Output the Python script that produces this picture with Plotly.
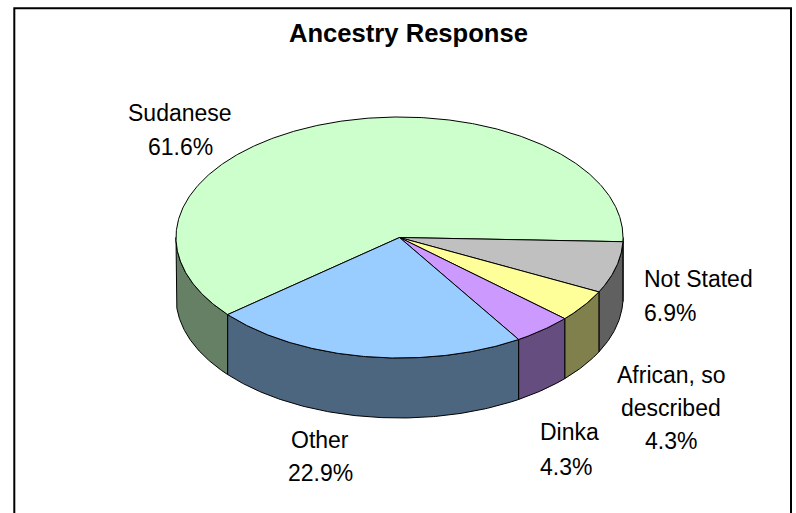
import numpy as np
import plotly.graph_objects as go

categories = ["Sudanese", "Not Stated", "African, so described", "Dinka", "Other"]
shares = [61.6, 6.9, 4.3, 4.3, 22.9]
top_colors = ["#CCFFCC", "#C0C0C0", "#FFFF99", "#CC99FF", "#99CCFF"]
side_colors = ["#668066", "#606060", "#80804D", "#664D80", "#4D6680"]
title_text = "Ancestry Response"

# Chart geometry, in page pixels
CX, CY, RX, RY, DEPTH = 399.5, 237.5, 223.5, 120.5, 60
START_DEG = 2 - 360 * shares[0] / 100

# Label line placement: (x, y, anchor, text)
label_lines = [
    (180, 113, "center", categories[0]),
    (180, 147, "center", f"{shares[0]}%"),
    (642, 279, "left", categories[1]),
    (642, 313, "left", f"{shares[1]}%"),
    (671, 375, "center", "African, so"),
    (671, 408, "center", "described"),
    (671, 441, "center", f"{shares[2]}%"),
    (538, 432, "left", categories[3]),
    (538, 467, "left", f"{shares[3]}%"),
    (320, 440, "center", categories[4]),
    (320, 473, "center", f"{shares[4]}%"),
]


def rim(a, b, dy=0.0):
    n = max(2, int(abs(b - a) * 2) + 2)
    t = np.radians(np.linspace(a, b, n))
    return CX + RX * np.cos(t), CY + RY * np.sin(t) + dy


def add_poly(fig, x, y, color):
    fig.add_trace(go.Scatter(
        x=list(x), y=list(y), mode="lines", fill="toself", fillcolor=color,
        line=dict(color="#000000", width=1), hoverinfo="skip", showlegend=False,
    ))


fig = go.Figure()

edges = START_DEG + np.concatenate([[0], np.cumsum(shares)]) * 3.6
spans = [(edges[i], edges[i + 1]) for i in range(len(shares))]

# Visible walls: the part of each slice whose rim lies on the front half
wall_parts = []
for i, (a, b) in enumerate(spans):
    for shift in (-360, 0, 360):
        lo, hi = max(a + shift, 0), min(b + shift, 180)
        if hi > lo:
            wall_parts.append((lo, hi, side_colors[i]))
for lo, hi, color in sorted(wall_parts, key=lambda p: abs(90 - (p[0] + p[1]) / 2), reverse=True):
    x1, y1 = rim(lo, hi)
    x2, y2 = rim(hi, lo, DEPTH)
    add_poly(fig, np.r_[x1, x2, x1[0]], np.r_[y1, y2, y1[0]], color)

# Top faces
for i, (a, b) in enumerate(spans):
    x, y = rim(a, b)
    add_poly(fig, np.r_[CX, x, CX], np.r_[CY, y, CY], top_colors[i])

annotations = [
    dict(x=408.5, y=33, xref="x", yref="y", text=f"<b>{title_text}</b>", showarrow=False,
         xanchor="center", yanchor="middle",
         font=dict(family="Liberation Sans, Arial, sans-serif", size=25.6, color="#000000"))
]
for x, y, anchor, text in label_lines:
    annotations.append(dict(
        x=x, y=y, xref="x", yref="y", text=text, showarrow=False,
        xanchor=anchor, yanchor="middle", xshift=0,
        font=dict(family="Liberation Sans, Arial, sans-serif", size=23, color="#000000"),
    ))

fig.update_layout(
    width=796, height=513, margin=dict(l=0, r=0, t=0, b=0),
    paper_bgcolor="#FFFFFF", plot_bgcolor="#FFFFFF", showlegend=False,
    xaxis=dict(range=[0, 796], visible=False, fixedrange=True),
    yaxis=dict(range=[513, 0], visible=False, fixedrange=True),
    annotations=annotations,
    shapes=[dict(type="rect", xref="x", yref="y", x0=14.3, x1=791, y0=8.2, y1=540,
                 line=dict(color="#000000", width=2), layer="above")],
)

fig.write_html("out.html", post_script="document.body.style.margin='0';document.documentElement.style.overflow='hidden';",
               config=dict(displayModeBar=False))
